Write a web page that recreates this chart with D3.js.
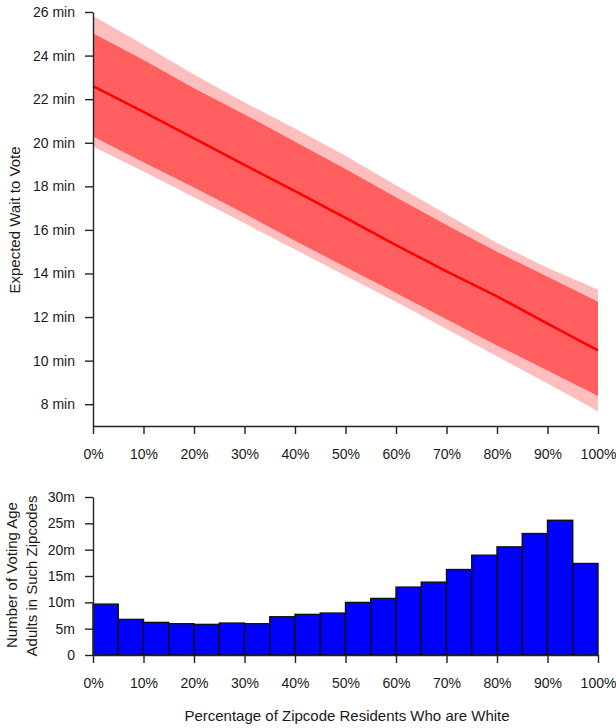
<!DOCTYPE html>
<html>
<head>
<meta charset="utf-8">
<script src="https://cdn.jsdelivr.net/npm/d3@7"></script>
<style>
  body { margin: 0; background: white; }
  text { font-family: "Liberation Sans", Arial, sans-serif; }
</style>
</head>
<body>
<div id="chart"></div>
<script>
// percent white at which the fitted curve was read
var pctWhite = [0, 10, 20, 30, 40, 50, 60, 70, 80, 90, 100]
// expected wait (minutes)
var waitFit = [22.6, 21.42, 20.2, 18.98, 17.78, 16.55, 15.3, 14.1, 12.95, 11.7, 10.47]
var innerHi = [25.02, 23.8, 22.5, 21.3, 20.05, 18.8, 17.5, 16.22, 15.0, 13.85, 12.7]
var innerLo = [20.29, 19.1, 17.95, 16.75, 15.5, 14.3, 13.1, 11.9, 10.7, 9.55, 8.38]
var outerHi = [25.83, 24.5, 23.13, 21.85, 20.65, 19.4, 18.05, 16.72, 15.4, 14.25, 13.27]
var outerLo = [19.83, 18.68, 17.5, 16.3, 15.1, 13.9, 12.7, 11.45, 10.2, 8.95, 7.68]

// histogram bins (left edge, %) and voting age adults (millions)
var binStart = [0, 5, 10, 15, 20, 25, 30, 35, 40, 45, 50, 55, 60, 65, 70, 75, 80, 85, 90, 95]
var binCount = [9.66, 6.76, 6.19, 5.94, 5.81, 6.06, 5.94, 7.26, 7.71, 7.96,
                9.98, 10.74, 12.89, 13.83, 16.23, 18.95, 20.53, 23.06, 25.58, 17.37]

var waitTicks = [8, 10, 12, 14, 16, 18, 20, 22, 24, 26]
var countTicks = [0, 5, 10, 15, 20, 25, 30]
var pctTicks = [0, 10, 20, 30, 40, 50, 60, 70, 80, 90, 100]

const W = 616, H = 728

const svg = d3.select("#chart")
    .append("svg")
    .attr("width", W)
    .attr("height", H)

const x = d3.scaleLinear().domain([0, 100]).range([93, 598])

// ---------- top panel ----------
const y = d3.scaleLinear().domain([7, 26]).range([426, 12])

const fitData = pctWhite.map((p, i) => ({
    p: p, fit: waitFit[i],
    ilo: innerLo[i], ihi: innerHi[i],
    olo: outerLo[i], ohi: outerHi[i]
}))

svg.append("path")
    .datum(fitData)
    .attr("fill", "#ffbebe")
    .attr("d", d3.area().x(d => x(d.p)).y0(d => y(d.olo)).y1(d => y(d.ohi)))

svg.append("path")
    .datum(fitData)
    .attr("fill", "#ff5f5f")
    .attr("d", d3.area().x(d => x(d.p)).y0(d => y(d.ilo)).y1(d => y(d.ihi)))

svg.append("path")
    .datum(fitData)
    .attr("fill", "none")
    .attr("stroke", "#ff0000")
    .attr("stroke-width", 2.5)
    .attr("d", d3.line().x(d => x(d.p)).y(d => y(d.fit)))

function styleAxis(g) {
    g.selectAll("path, line").attr("stroke", "#222").attr("stroke-width", 1.4)
    g.selectAll("text").attr("fill", "#1a1a1a").style("font-size", "14px")
}

svg.append("g")
    .attr("transform", "translate(93,0)")
    .call(d3.axisLeft(y).tickValues(waitTicks).tickSize(8).tickSizeOuter(0)
        .tickPadding(10).tickFormat(d => d + " min"))
    .call(styleAxis)

svg.append("g")
    .attr("transform", "translate(0,426)")
    .call(d3.axisBottom(x).tickValues(pctTicks).tickSize(8).tickSizeOuter(0)
        .tickPadding(15).tickFormat(d => d + "%"))
    .call(styleAxis)

svg.append("text")
    .attr("transform", "translate(20,220) rotate(-90)")
    .attr("text-anchor", "middle")
    .style("font-size", "15px")
    .attr("fill", "#1a1a1a")
    .text("Expected Wait to Vote")

// ---------- histogram ----------
const yh = d3.scaleLinear().domain([0, 30]).range([655, 497])

svg.selectAll(".bar")
    .data(binStart.map((b, i) => ({b: b, n: binCount[i]})))
    .join("rect")
    .attr("class", "bar")
    .attr("x", d => x(d.b))
    .attr("y", d => yh(d.n))
    .attr("width", d => x(d.b + 5) - x(d.b))
    .attr("height", d => yh(0) - yh(d.n))
    .attr("fill", "#0000ff")
    .attr("stroke", "#111")
    .attr("stroke-width", 1.4)

svg.append("g")
    .attr("transform", "translate(93,0)")
    .call(d3.axisLeft(yh).tickValues(countTicks).tickSize(8).tickSizeOuter(0)
        .tickPadding(10).tickFormat(d => d == 0 ? "0" : d + "m"))
    .call(styleAxis)

svg.append("g")
    .attr("transform", "translate(0,655)")
    .call(d3.axisBottom(x).tickValues(pctTicks).tickSize(8).tickSizeOuter(0)
        .tickPadding(15).tickFormat(d => d + "%"))
    .call(styleAxis)

svg.append("text")
    .attr("transform", "translate(17,575) rotate(-90)")
    .attr("text-anchor", "middle")
    .style("font-size", "15px")
    .attr("fill", "#1a1a1a")
    .text("Number of Voting Age")

svg.append("text")
    .attr("transform", "translate(37,576) rotate(-90)")
    .attr("text-anchor", "middle")
    .style("font-size", "15px")
    .attr("fill", "#1a1a1a")
    .text("Adults in Such Zipcodes")

svg.append("text")
    .attr("x", 347)
    .attr("y", 721)
    .attr("text-anchor", "middle")
    .style("font-size", "15px")
    .attr("fill", "#1a1a1a")
    .text("Percentage of Zipcode Residents Who are White")
</script>
</body>
</html>
